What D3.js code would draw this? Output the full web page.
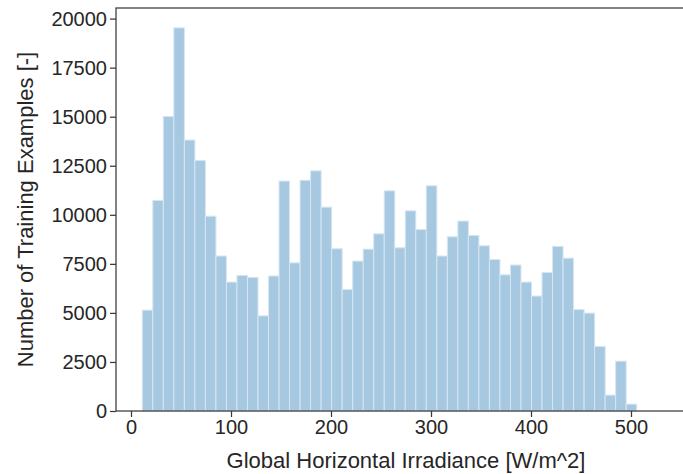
<!DOCTYPE html>
<html>
<head>
<meta charset="utf-8">
<script src="https://cdn.jsdelivr.net/npm/d3@7"></script>
<style>
  body { margin: 0; background: #fff; }
  svg { display: block; font-family: "Liberation Sans", Arial, sans-serif; }
</style>
</head>
<body>
<div class="chart"></div>
<script>
//histogram counts per bin (47 bins)
var counts = [
  5140, 10730, 15010, 19530, 13810, 12770, 9930, 7900, 6570, 6910,
  6810, 4850, 6880, 11720, 7550, 11760, 12240, 10390, 8270, 6190,
  7640, 8250, 9030, 11220, 8320, 10200, 9250, 11480, 7900, 8880,
  9680, 8950, 8420, 7720, 6940, 7440, 6570, 5860, 7060, 8390,
  7790, 5170, 4990, 3290, 810, 2540, 350
];

//range the bins cover (W/m^2)
var binMin = 11.3;
var binMax = 505.7;

//tick labels
var xTicks = [0, 100, 200, 300, 400, 500];
var yTicks = [0, 2500, 5000, 7500, 10000, 12500, 15000, 17500, 20000];

//axis domains
var xDomain = [-15, 565];
var yDomain = [0, 20540];

const w = 683;
const h = 474;
const padL = 116, padR = 696, padT = 8, padB = 411;

//build the bins from the range
var binW = (binMax - binMin) / counts.length;
var bins = counts.map(function(c, i) {
  return { x0: binMin + i * binW, x1: binMin + (i + 1) * binW, n: c };
});

const xScale = d3.scaleLinear().domain(xDomain).range([padL, padR]);
const yScale = d3.scaleLinear().domain(yDomain).range([padB, padT]);

const svg = d3.select(".chart")
  .append("svg")
  .attr("width", w)
  .attr("height", h);

//bars
svg.append("g")
  .selectAll("rect")
  .data(bins)
  .enter()
  .append("rect")
  .attr("x", (d) => xScale(d.x0))
  .attr("y", (d) => yScale(d.n))
  .attr("width", (d) => xScale(d.x1) - xScale(d.x0))
  .attr("height", (d) => yScale(0) - yScale(d.n))
  .attr("fill", "#a6c8e1")
  .attr("stroke", "#d6e6f2")
  .attr("stroke-width", 1);

//frame
svg.append("rect")
  .attr("x", padL)
  .attr("y", padT)
  .attr("width", padR - padL)
  .attr("height", padB - padT)
  .attr("fill", "none")
  .attr("stroke", "#3a3a3a")
  .attr("stroke-width", 1.25);

//x axis
const xAxis = d3.axisBottom(xScale).tickValues(xTicks).tickFormat(d3.format("d"))
  .tickSize(6).tickPadding(3);
const gx = svg.append("g")
  .attr("transform", "translate(0," + padB + ")")
  .call(xAxis);

//y axis
const yAxis = d3.axisLeft(yScale).tickValues(yTicks).tickFormat(d3.format("d"))
  .tickSize(6).tickPadding(3);
const gy = svg.append("g")
  .attr("transform", "translate(" + padL + ",0)")
  .call(yAxis);

[gx, gy].forEach(function(g) {
  g.select(".domain").remove();
  g.selectAll(".tick line").attr("stroke", "#3a3a3a").attr("stroke-width", 1.25);
  g.selectAll(".tick text")
    .attr("fill", "#262626")
    .style("font-size", "20px")
    .style("font-family", "'Liberation Sans', Arial, sans-serif");
});

//axis labels
svg.append("text")
  .attr("x", (padL + padR) / 2)
  .attr("y", 468)
  .attr("text-anchor", "middle")
  .attr("fill", "#262626")
  .style("font-size", "22px")
  .text("Global Horizontal Irradiance [W/m^2]");

svg.append("text")
  .attr("transform", "translate(33," + ((padT + padB) / 2) + ") rotate(-90)")
  .attr("text-anchor", "middle")
  .attr("fill", "#262626")
  .style("font-size", "22px")
  .text("Number of Training Examples [-]");
</script>
</body>
</html>
